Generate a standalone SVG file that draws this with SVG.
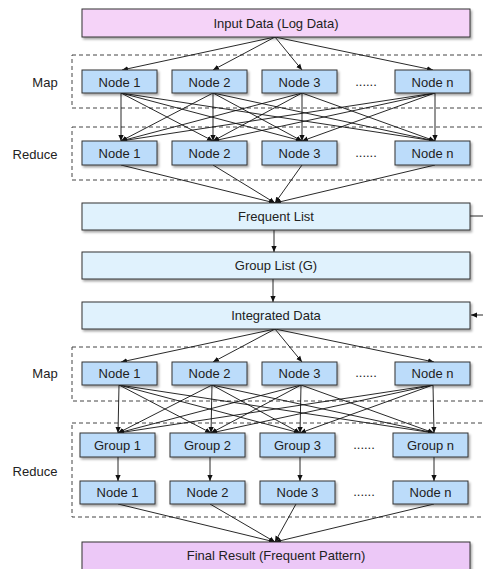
<svg xmlns="http://www.w3.org/2000/svg" width="483" height="569" viewBox="0 0 483 569">
<style>
text{font-family:"Liberation Sans",Arial,sans-serif;font-size:13px;fill:#222;text-anchor:middle;dominant-baseline:central}
.big{stroke:#333;stroke-width:1}
.node rect{fill:#bcdcfa;stroke:#333;stroke-width:1}
.pink{fill:#f5d3f8}
.pink2{fill:#ecc8f7}
.lb{fill:#e0f2fd}
.dash{fill:none;stroke:#444;stroke-width:1;stroke-dasharray:4 3}
.c line{stroke:#111;stroke-width:0.9;marker-end:url(#a)}
</style>
<defs>
<marker id="a" viewBox="0 0 8 8" refX="8" refY="4" markerWidth="6" markerHeight="6" markerUnits="userSpaceOnUse" orient="auto"><path d="M0,0.5 L8,4 L0,7.5 Z" fill="#111"/></marker>
<filter id="s" x="-10%" y="-20%" width="130%" height="160%"><feDropShadow dx="1.5" dy="2" stdDeviation="1.2" flood-color="#000" flood-opacity="0.35"/></filter>
</defs>
<rect width="483" height="569" fill="#fff"/>

<rect class="dash" x="72" y="55" width="420" height="53"/>
<rect class="dash" x="72" y="127" width="420" height="53"/>
<rect class="dash" x="72" y="347" width="420" height="54"/>
<rect class="dash" x="72" y="423" width="420" height="94"/>
<text x="45" y="82">Map</text>
<text x="35" y="154">Reduce</text>
<text x="45" y="373">Map</text>
<text x="35" y="471">Reduce</text>

<g class="c" id="connectors">
<line x1="275" y1="37" x2="122" y2="70"/>
<line x1="275" y1="37" x2="213" y2="70"/>
<line x1="275" y1="37" x2="302" y2="70"/>
<line x1="275" y1="37" x2="433" y2="70"/>

<line x1="121" y1="93" x2="121" y2="141"/>
<line x1="121" y1="93" x2="213" y2="141"/>
<line x1="121" y1="93" x2="302" y2="141"/>
<line x1="121" y1="93" x2="435" y2="141"/>
<line x1="213" y1="93" x2="121" y2="141"/>
<line x1="213" y1="93" x2="213" y2="141"/>
<line x1="213" y1="93" x2="302" y2="141"/>
<line x1="213" y1="93" x2="435" y2="141"/>
<line x1="302" y1="93" x2="121" y2="141"/>
<line x1="302" y1="93" x2="213" y2="141"/>
<line x1="302" y1="93" x2="302" y2="141"/>
<line x1="302" y1="93" x2="435" y2="141"/>
<line x1="435" y1="93" x2="121" y2="141"/>
<line x1="435" y1="93" x2="213" y2="141"/>
<line x1="435" y1="93" x2="302" y2="141"/>
<line x1="435" y1="93" x2="435" y2="141"/>

<line x1="121" y1="165" x2="275" y2="203"/>
<line x1="213" y1="165" x2="275" y2="203"/>
<line x1="302" y1="165" x2="275" y2="203"/>
<line x1="435" y1="165" x2="275" y2="203"/>

<line x1="274" y1="230" x2="274" y2="252"/>
<line x1="273" y1="279" x2="273" y2="302"/>
<line x1="470" y1="216" x2="483" y2="216" style="marker-end:none"/>
<line x1="483" y1="315" x2="471" y2="315"/>

<line x1="275" y1="329" x2="121" y2="362"/>
<line x1="275" y1="329" x2="213" y2="362"/>
<line x1="275" y1="329" x2="302" y2="362"/>
<line x1="275" y1="329" x2="434" y2="362"/>

<line x1="119" y1="385" x2="118" y2="433"/>
<line x1="119" y1="385" x2="211" y2="433"/>
<line x1="119" y1="385" x2="300" y2="433"/>
<line x1="119" y1="385" x2="434" y2="433"/>
<line x1="212" y1="385" x2="118" y2="433"/>
<line x1="212" y1="385" x2="211" y2="433"/>
<line x1="212" y1="385" x2="300" y2="433"/>
<line x1="212" y1="385" x2="434" y2="433"/>
<line x1="301" y1="385" x2="118" y2="433"/>
<line x1="301" y1="385" x2="211" y2="433"/>
<line x1="301" y1="385" x2="300" y2="433"/>
<line x1="301" y1="385" x2="434" y2="433"/>
<line x1="433" y1="385" x2="118" y2="433"/>
<line x1="433" y1="385" x2="211" y2="433"/>
<line x1="433" y1="385" x2="300" y2="433"/>
<line x1="433" y1="385" x2="434" y2="433"/>

<line x1="118" y1="457" x2="118" y2="481"/>
<line x1="210" y1="457" x2="210" y2="481"/>
<line x1="300" y1="457" x2="300" y2="481"/>
<line x1="434" y1="457" x2="434" y2="481"/>

<line x1="118" y1="504" x2="275" y2="542"/>
<line x1="210" y1="504" x2="275" y2="542"/>
<line x1="296" y1="504" x2="275" y2="542"/>
<line x1="434" y1="504" x2="275" y2="542"/>
</g>

<g id="input"><rect class="big pink" x="82" y="9" width="388" height="28" filter="url(#s)"/><text x="276" y="23">Input Data (Log Data)</text></g>

<g class="node" id="map1-n1"><rect x="82" y="70" width="75" height="23" filter="url(#s)"/><text x="119.5" y="82">Node 1</text></g>
<g class="node" id="map1-n2"><rect x="172" y="70" width="75" height="23" filter="url(#s)"/><text x="209.5" y="82">Node 2</text></g>
<g class="node" id="map1-n3"><rect x="262" y="70" width="75" height="23" filter="url(#s)"/><text x="299.5" y="82">Node 3</text></g>
<text x="366" y="81">......</text>
<g class="node" id="map1-nn"><rect x="395" y="70" width="75" height="23" filter="url(#s)"/><text x="432.5" y="82">Node n</text></g>

<g class="node" id="red1-n1"><rect x="82" y="141" width="75" height="24" filter="url(#s)"/><text x="119.5" y="153">Node 1</text></g>
<g class="node" id="red1-n2"><rect x="172" y="141" width="75" height="24" filter="url(#s)"/><text x="209.5" y="153">Node 2</text></g>
<g class="node" id="red1-n3"><rect x="262" y="141" width="75" height="24" filter="url(#s)"/><text x="299.5" y="153">Node 3</text></g>
<text x="366" y="152">......</text>
<g class="node" id="red1-nn"><rect x="395" y="141" width="75" height="24" filter="url(#s)"/><text x="432.5" y="153">Node n</text></g>

<g id="frequent"><rect class="big lb" x="82" y="203" width="388" height="27" filter="url(#s)"/><text x="276" y="216">Frequent List</text></g>
<g id="grouplist"><rect class="big lb" x="82" y="252" width="388" height="27" filter="url(#s)"/><text x="276" y="265">Group List (G)</text></g>
<g id="integrated"><rect class="big lb" x="82" y="302" width="388" height="27" filter="url(#s)"/><text x="276" y="315">Integrated Data</text></g>

<g class="node" id="map2-n1"><rect x="82" y="362" width="75" height="23" filter="url(#s)"/><text x="119.5" y="373">Node 1</text></g>
<g class="node" id="map2-n2"><rect x="172" y="362" width="75" height="23" filter="url(#s)"/><text x="209.5" y="373">Node 2</text></g>
<g class="node" id="map2-n3"><rect x="262" y="362" width="75" height="23" filter="url(#s)"/><text x="299.5" y="373">Node 3</text></g>
<text x="366" y="372">......</text>
<g class="node" id="map2-nn"><rect x="395" y="362" width="75" height="23" filter="url(#s)"/><text x="432.5" y="373">Node n</text></g>

<g class="node" id="grp-1"><rect x="80" y="433" width="75" height="24" filter="url(#s)"/><text x="117.5" y="445">Group 1</text></g>
<g class="node" id="grp-2"><rect x="170" y="433" width="75" height="24" filter="url(#s)"/><text x="207.5" y="445">Group 2</text></g>
<g class="node" id="grp-3"><rect x="260" y="433" width="75" height="24" filter="url(#s)"/><text x="297.5" y="445">Group 3</text></g>
<text x="364" y="444">......</text>
<g class="node" id="grp-n"><rect x="393" y="433" width="75" height="24" filter="url(#s)"/><text x="430.5" y="445">Group n</text></g>

<g class="node" id="red2-n1"><rect x="80" y="481" width="75" height="23" filter="url(#s)"/><text x="117.5" y="492">Node 1</text></g>
<g class="node" id="red2-n2"><rect x="170" y="481" width="75" height="23" filter="url(#s)"/><text x="207.5" y="492">Node 2</text></g>
<g class="node" id="red2-n3"><rect x="260" y="481" width="75" height="23" filter="url(#s)"/><text x="297.5" y="492">Node 3</text></g>
<text x="364" y="491">......</text>
<g class="node" id="red2-nn"><rect x="393" y="481" width="75" height="23" filter="url(#s)"/><text x="430.5" y="492">Node n</text></g>

<g id="final"><rect class="big pink2" x="82" y="542" width="388" height="30" filter="url(#s)"/><text x="276" y="555">Final Result (Frequent Pattern)</text></g>
</svg>
